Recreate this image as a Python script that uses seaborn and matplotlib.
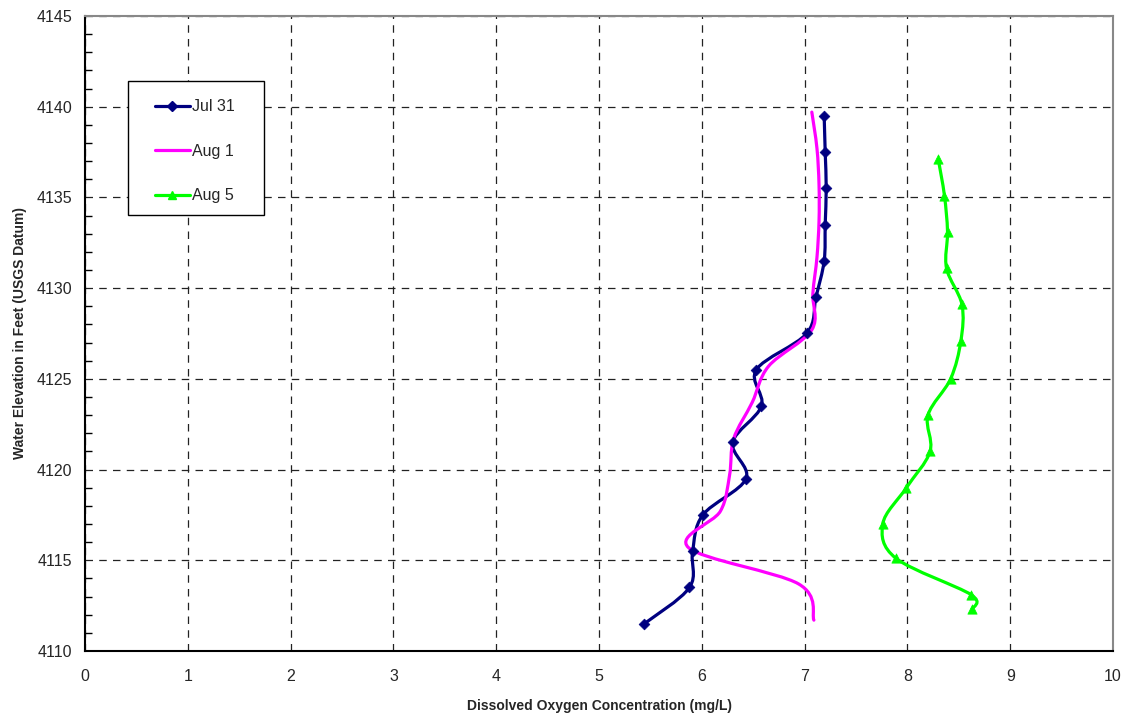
import numpy as np
import matplotlib
matplotlib.use("Agg")
import matplotlib.pyplot as plt
import seaborn as sns
from matplotlib.path import Path
from matplotlib.patches import PathPatch, Rectangle
from matplotlib.lines import Line2D
from matplotlib.ticker import MultipleLocator

# Dissolved oxygen profiles (mg/L) against water elevation (ft)
jul31_elev = [4139.5, 4137.5, 4135.5, 4133.5, 4131.5, 4129.5, 4127.5, 4125.5,
              4123.5, 4121.5, 4119.5, 4117.5, 4115.5, 4113.5, 4111.5]
jul31_do = [7.19, 7.20, 7.21, 7.20, 7.19, 7.11, 7.02, 6.53,
            6.58, 6.30, 6.43, 6.01, 5.91, 5.88, 5.44]

aug1_elev = [4139.7, 4137.7, 4135.7, 4133.7, 4131.7, 4129.7, 4127.7, 4125.7,
             4123.7, 4121.7, 4119.7, 4117.7, 4115.7, 4113.7, 4111.7]
aug1_do = [7.07, 7.12, 7.14, 7.14, 7.12, 7.08, 7.07, 6.65,
           6.49, 6.31, 6.27, 6.18, 5.87, 6.94, 7.09]

aug5_elev = [4137.1, 4135.1, 4133.1, 4131.1, 4129.1, 4127.1, 4125.0, 4123.0,
             4121.0, 4119.0, 4117.0, 4115.1, 4113.1, 4112.3]
aug5_do = [8.30, 8.36, 8.39, 8.38, 8.53, 8.52, 8.42, 8.20,
           8.22, 7.99, 7.76, 7.89, 8.62, 8.63]

NAVY = "#000080"
MAGENTA = "#FF00FF"
LIME = "#00FF00"


def smooth_path(xs, ys):
    # Excel style smoothed line: cubic Bezier segments through every point
    pts = np.column_stack([xs, ys]).astype(float)
    n = len(pts)
    verts = [pts[0]]
    codes = [Path.MOVETO]
    for i in range(n - 1):
        p0 = pts[max(i - 1, 0)]
        p1 = pts[i]
        p2 = pts[i + 1]
        p3 = pts[min(i + 2, n - 1)]
        verts += [p1 + (p2 - p0) / 6, p2 - (p3 - p1) / 6, p2]
        codes += [Path.CURVE4] * 3
    return Path(verts, codes)


sns.set_style("white")
plt.rcParams["font.family"] = ["Liberation Sans", "DejaVu Sans"]

fig = plt.figure(figsize=(11.3, 7.16), dpi=100)
ax = fig.add_axes([0.0752, 0.0908, 0.9098, 0.8869])

for xs, ys, col in [(jul31_do, jul31_elev, NAVY),
                    (aug1_do, aug1_elev, MAGENTA),
                    (aug5_do, aug5_elev, LIME)]:
    ax.add_patch(PathPatch(smooth_path(xs, ys), facecolor="none",
                           edgecolor=col, lw=2.3, capstyle="round",
                           joinstyle="round", zorder=3))

sns.scatterplot(x=jul31_do, y=jul31_elev, marker="D", s=30, color=NAVY,
                edgecolor=NAVY, linewidth=0.5, ax=ax, zorder=4)
sns.scatterplot(x=aug5_do, y=aug5_elev, marker="^", s=45, color=LIME,
                edgecolor=LIME, linewidth=0.5, ax=ax, zorder=4)

ax.set_xlim(0, 10)
ax.set_ylim(4110, 4145)
ax.xaxis.set_major_locator(MultipleLocator(1))
ax.yaxis.set_major_locator(MultipleLocator(5))
ax.yaxis.set_minor_locator(MultipleLocator(1))

ax.grid(True, which="major", color="#222222", linestyle=(0, (6, 5)), lw=0.9)
ax.set_axisbelow(True)

ax.tick_params(axis="x", which="major", direction="inout", length=10,
               width=1, color="black", labelsize=11.5, pad=8)
ax.tick_params(axis="y", which="major", direction="inout", length=10,
               width=1, color="black", labelsize=11.5, pad=4)
ax.tick_params(axis="y", which="minor", direction="in", length=5,
               width=1, color="black", left=True)

for side in ["left", "bottom"]:
    ax.spines[side].set_color("black")
    ax.spines[side].set_linewidth(1.5)
for side in ["top", "right"]:
    ax.spines[side].set_color("#888888")
    ax.spines[side].set_linewidth(1.5)

ax.set_xlabel("Dissolved Oxygen Concentration (mg/L)", fontsize=10,
              fontweight="bold", labelpad=11)
ax.set_ylabel("Water Elevation in Feet (USGS Datum)", fontsize=10,
              fontweight="bold", labelpad=7)

# legend box
ax.add_patch(Rectangle((0.0418, 0.6866), 0.1323, 0.211, transform=ax.transAxes,
                       facecolor="white", edgecolor="black", lw=1, zorder=5))
handles = [
    Line2D([], [], color=NAVY, lw=2.3, marker="D", markersize=5),
    Line2D([], [], color=MAGENTA, lw=2.3),
    Line2D([], [], color=LIME, lw=2.3, marker="^", markersize=6),
]
leg = ax.legend(handles, ["Jul 31", "Aug 1", "Aug 5"], loc="upper left",
                bbox_to_anchor=(0.068, 0.869), frameon=False, fontsize=11.5,
                handlelength=2.2, handletextpad=0.15, labelspacing=1.85,
                borderpad=0, borderaxespad=0)
leg.set_zorder(6)

fig.savefig("out.png", dpi=100)
